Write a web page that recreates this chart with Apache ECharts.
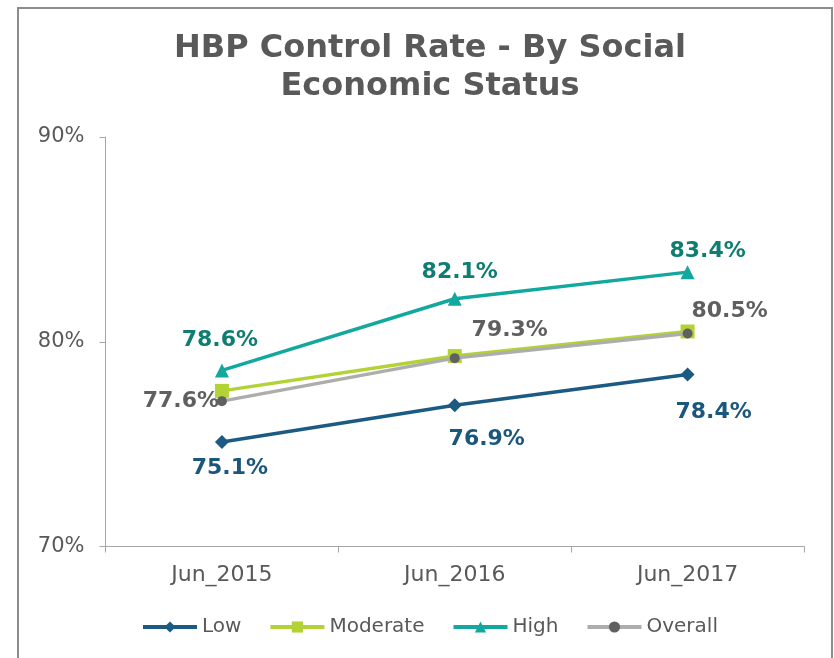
<!DOCTYPE html>
<html>
<head>
<meta charset="utf-8">
<script src="https://cdn.jsdelivr.net/npm/echarts@6/dist/echarts.min.js"></script>
<style>
  html, body { margin: 0; padding: 0; background: #ffffff; }
  #chart { width: 834px; height: 658px; }
</style>
</head>
<body>
<div id="chart"></div>
<script>
// Reporting periods
const periods = ['Jun_2015', 'Jun_2016', 'Jun_2017'];

// Control rate (%) by social economic status
const lowValues      = [75.1, 76.9, 78.4];
const moderateValues = [77.6, 79.3, 80.5];
const highValues     = [78.6, 82.1, 83.4];
const overallValues  = [77.1, 79.2, 80.4];

// Value axis range and step (%)
const axisMin = 70;
const axisMax = 90;
const axisStep = 10;

const textGrey = '#595959';
const font = 'DejaVu Sans, Verdana, sans-serif';

// Label placement around each point, per series: [dx, dy] from the point centre
const lowLabelShift      = [[8, 26], [32, 34], [26, 38]];
const moderateLabelShift = [[-41, 10], [55, -26], [42, -20]];
const highLabelShift     = [[-2, -30], [5, -26], [20, -21]];

function withLabels(values, shifts, color) {
  return values.map((v, i) => ({
    value: v,
    label: {
      show: true,
      position: 'inside',
      offset: shifts[i],
      formatter: (p) => p.value.toFixed(1) + '%',
      color: color,
      fontFamily: font,
      fontWeight: 'bold',
      fontSize: 22
    }
  }));
}

const chart = echarts.init(document.getElementById('chart'), null, { renderer: 'canvas' });

chart.setOption({
  animation: false,
  backgroundColor: '#ffffff',
  graphic: [{
    type: 'rect',
    shape: { x: 18, y: 8, width: 814, height: 700 },
    style: { fill: 'none', stroke: '#8c8c8c', lineWidth: 2 },
    silent: true,
    z: -10
  }],
  title: {
    text: 'HBP Control Rate - By Social\nEconomic Status',
    left: 425,
    top: 25,
    textAlign: 'center',
    textStyle: {
      fontFamily: font,
      fontWeight: 'bold',
      fontSize: 32,
      lineHeight: 38,
      color: textGrey
    }
  },
  legend: {
    left: 136,
    top: 612,
    padding: 5,
    itemWidth: 54,
    itemHeight: 14,
    itemGap: 27,
    lineStyle: { width: 4 },
    textStyle: { fontFamily: font, fontSize: 20, color: textGrey, padding: [0, 0, 0, 0] },
    data: ['Low', 'Moderate', 'High', 'Overall']
  },
  grid: { left: 105.5, right: 30, top: 137, bottom: 111.5 },
  xAxis: {
    type: 'category',
    data: periods,
    boundaryGap: true,
    axisLine: { show: true, lineStyle: { color: '#a6a6a6', width: 1 } },
    axisTick: { show: true, length: 6, lineStyle: { color: '#a6a6a6' } },
    axisLabel: { fontFamily: font, fontSize: 22, color: textGrey, margin: 18 }
  },
  yAxis: {
    type: 'value',
    min: axisMin,
    max: axisMax,
    interval: axisStep,
    axisLine: { show: true, lineStyle: { color: '#a6a6a6', width: 1 } },
    axisTick: { show: true, length: 6, lineStyle: { color: '#a6a6a6' } },
    splitLine: { show: false },
    axisLabel: {
      fontFamily: font, fontSize: 21, color: textGrey, margin: 21,
      formatter: '{value}%'
    }
  },
  series: [
    {
      name: 'Low',
      type: 'line',
      data: withLabels(lowValues, lowLabelShift, '#1b577c'),
      symbol: 'diamond',
      symbolSize: 14,
      lineStyle: { color: '#1a5a83', width: 3.5 },
      itemStyle: { color: '#1a5a83' },
      z: 3
    },
    {
      name: 'Moderate',
      type: 'line',
      data: withLabels(moderateValues, moderateLabelShift, '#5f5f5f'),
      symbol: 'rect',
      symbolSize: 14,
      lineStyle: { color: '#b2d235', width: 3.5 },
      itemStyle: { color: '#b2d235' },
      z: 2
    },
    {
      name: 'High',
      type: 'line',
      data: withLabels(highValues, highLabelShift, '#0f7d72'),
      symbol: 'triangle',
      symbolSize: 14,
      lineStyle: { color: '#13a89e', width: 3.5 },
      itemStyle: { color: '#13a89e' },
      z: 4
    },
    {
      name: 'Overall',
      type: 'line',
      data: overallValues,
      symbol: 'circle',
      symbolSize: 10,
      lineStyle: { color: '#adadad', width: 3.5 },
      itemStyle: { color: '#606060' },
      label: { show: false },
      z: 3
    }
  ]
});
</script>
</body>
</html>
